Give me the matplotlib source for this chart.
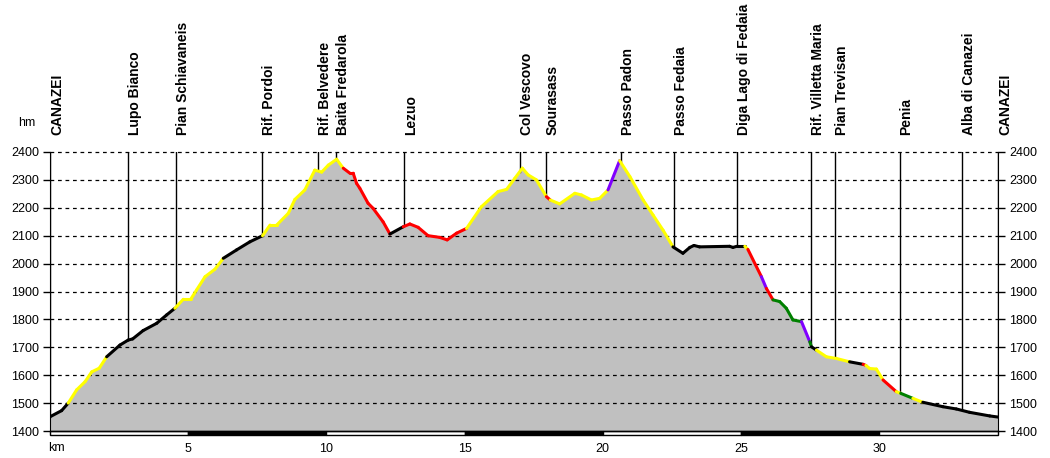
import numpy as np
import matplotlib
matplotlib.use("Agg")
import matplotlib.pyplot as plt

plt.rcParams['font.family'] = ['Liberation Sans', 'DejaVu Sans']

# profile points (km, m) and colour class of the segment starting at each point
km = [0.00, 0.42, 0.66, 0.96, 1.27, 1.51, 1.78, 2.05, 2.53, 2.83, 2.99, 3.37, 3.86, 4.22,
      4.52, 4.82, 5.09, 5.30, 5.61, 5.97, 6.27, 6.75, 7.23, 7.69, 7.96, 8.20, 8.62, 8.86,
      9.22, 9.58, 9.83, 10.07, 10.37, 10.61, 10.85, 10.97, 11.09, 11.21, 11.51, 11.69,
      12.05, 12.30, 12.78, 13.02, 13.32, 13.68, 14.10, 14.37, 14.71, 15.07, 15.61, 16.21,
      16.52, 16.82, 17.09, 17.30, 17.60, 17.96, 18.10, 18.44, 18.99, 19.23, 19.59, 19.89,
      20.19, 20.61, 20.98, 21.46, 21.82, 22.18, 22.54, 22.90, 23.15, 23.30, 23.50, 24.59,
      24.71, 24.85, 25.14, 25.25, 25.74, 25.92, 26.16, 26.40, 26.64, 26.88, 27.19, 27.49,
      27.55, 27.73, 28.09, 28.45, 28.93, 29.42, 29.52, 29.66, 29.90, 30.14, 30.62, 30.78,
      31.22, 31.58, 32.31, 32.79, 33.27, 34.00, 34.30]
elev = [1451, 1473, 1500, 1547, 1577, 1612, 1625, 1666, 1708, 1726, 1730, 1760, 1786, 1816,
        1840, 1872, 1872, 1905, 1953, 1980, 2019, 2049, 2078, 2100, 2138, 2138, 2180, 2230,
        2264, 2335, 2328, 2353, 2374, 2342, 2324, 2324, 2288, 2270, 2216, 2198,
        2150, 2106, 2132, 2142, 2130, 2100, 2094, 2085, 2109, 2126, 2204, 2258,
        2266, 2306, 2342, 2318, 2300, 2240, 2228, 2214, 2252, 2246, 2228, 2234,
        2264, 2369, 2312, 2228, 2174, 2120, 2060, 2037, 2058, 2065, 2060, 2062,
        2058, 2062, 2062, 2051, 1953, 1911, 1870, 1864, 1840, 1798, 1792, 1720,
        1702, 1690, 1666, 1660, 1648, 1639, 1635, 1624, 1622, 1583, 1541, 1535,
        1517, 1503, 1487, 1479, 1467, 1454, 1450]
grade = ['k', 'k', 'y', 'y', 'y', 'y', 'y', 'k', 'k', 'k', 'k', 'k', 'k', 'k',
         'y', 'y', 'y', 'y', 'y', 'y', 'k', 'k', 'k', 'y', 'y', 'y', 'y', 'y',
         'y', 'y', 'y', 'y', 'y', 'r', 'r', 'r', 'r', 'r', 'r', 'r',
         'r', 'k', 'r', 'r', 'r', 'r', 'r', 'r', 'r', 'y', 'y', 'y',
         'y', 'y', 'y', 'y', 'y', 'r', 'y', 'y', 'y', 'y', 'y', 'y',
         'p', 'y', 'y', 'y', 'y', 'y', 'k', 'k', 'k', 'k', 'k', 'k',
         'k', 'k', 'y', 'r', 'p', 'r', 'g', 'g', 'g', 'g', 'p', 'g',
         'k', 'y', 'y', 'y', 'k', 'r', 'y', 'y', 'y', 'r', 'y', 'g',
         'y', 'k', 'k', 'k', 'k', 'k', 'k']

places = ['CANAZEI', 'Lupo Bianco', 'Pian Schiavaneis', 'Rif. Pordoi', 'Rif. Belvedere',
          'Baita Fredarola', 'Lezuo', 'Col Vescovo', 'Sourasass', 'Passo Padon',
          'Passo Fedaia', 'Diga Lago di Fedaia', 'Rif. Villetta Maria', 'Pian Trevisan',
          'Penia', 'Alba di Canazei', 'CANAZEI']
place_km = [0.0, 2.82, 4.56, 7.67, 9.69, 10.34, 12.82, 17.0, 17.94, 20.65,
            22.57, 24.85, 27.52, 28.39, 30.74, 32.98, 34.3]

colors = {'k': '#000000', 'y': '#FFFF00', 'r': '#FF0000', 'p': '#8000FF', 'g': '#008000'}
km_max = 34.3

fig = plt.figure(figsize=(10.5, 4.58), dpi=100)
ax = fig.add_axes([50/1050, 27/458, 948/1050, 279/458])
ax.set_xlim(0, km_max)
ax.set_ylim(1400, 2400)

ax.fill_between(km, elev, 1400, color='#C0C0C0', lw=0, zorder=1)

# dashed grid
for h in range(1500, 2401, 100):
    ax.plot([0, km_max], [h, h], color='black', lw=0.9, dashes=(3, 3), zorder=2, clip_on=False)

# waypoint lines and labels
for name, x in zip(places, place_km):
    top = np.interp(x, km, elev)
    ax.plot([x, x], [top, 2400], color='black', lw=1, zorder=2)
    ax.annotate(name, xy=(x, 2400), xytext=(0, 12), textcoords='offset points',
                rotation=90, ha='left', va='bottom', fontsize=10, fontweight='bold')

# coloured profile line
for i in range(len(km) - 1):
    ax.plot(km[i:i+2], elev[i:i+2], color=colors[grade[i]], lw=2.2,
            solid_capstyle='round', zorder=3)

# km scale bar
bar_x = np.arange(0, km_max, 5)
bar_w = [min(5, km_max - x) for x in bar_x]
bar_c = ['white' if i % 2 == 0 else 'black' for i in range(len(bar_x))]
bars = ax.bar(bar_x, 16, width=bar_w, bottom=1384, align='edge', color=bar_c,
              edgecolor='black', lw=1, zorder=4)
for b in bars:
    b.set_clip_on(False)

for s in ['top', 'bottom']:
    ax.spines[s].set_visible(False)
ax.axhline(1400, color='black', lw=1, zorder=5, clip_on=False)

ax.set_yticks(range(1400, 2401, 100))
ax.tick_params(axis='y', which='both', left=True, right=True, labelleft=True,
               labelright=True, direction='out', length=5, width=1, labelsize=9, pad=3)
ax.set_xticks([5, 10, 15, 20, 25, 30])
ax.tick_params(axis='x', length=0, labelsize=9, pad=9)
ax.text(-0.06, -0.062, 'km', transform=ax.get_xaxis_transform(),
        ha='left', va='center', fontsize=9)

fig.text(27/1050, 1 - 123/458, 'hm', ha='center', va='center', fontsize=9)

fig.savefig('out.png', dpi=100)
